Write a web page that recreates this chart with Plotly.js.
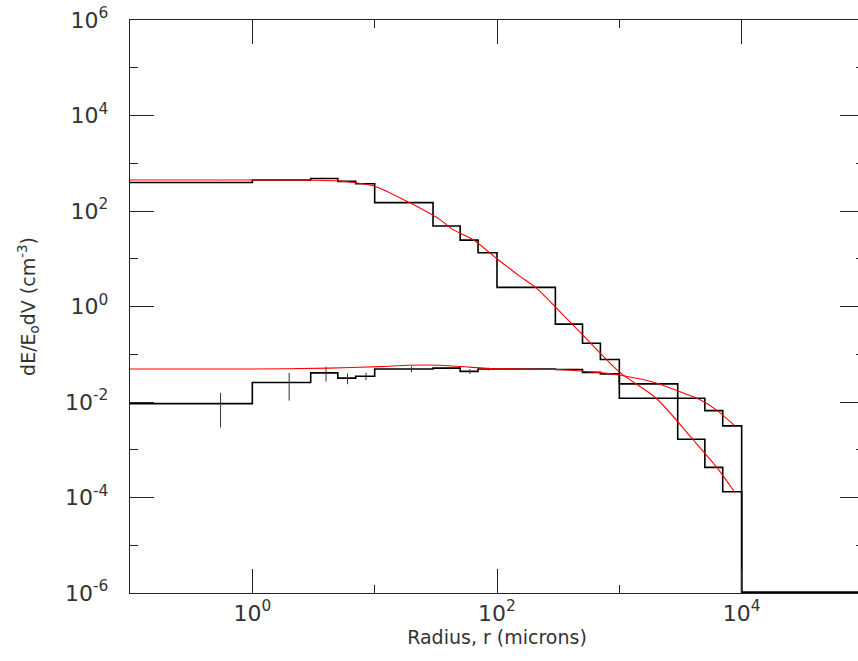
<!DOCTYPE html>
<html>
<head>
<meta charset="utf-8">
<script src="https://cdn.plot.ly/plotly-3.0.1.min.js"></script>
<style>
html,body{margin:0;padding:0;overflow:hidden;background:#fff;}
#chart{width:870px;height:661px;}
</style>
</head>
<body>
<div id="chart"></div>
<script>
// Bin edges (microns)
const binEdges = [0.1, 1, 3, 5, 7, 10, 30, 50, 70, 100, 300, 500, 700, 1000, 3000, 5000, 7000, 10000];
// Upper histogram values (cm^-3)
const upperVals = [394, 447, 479, 417, 372, 150, 48.4, 24.5, 13.4, 2.51, 0.427, 0.170, 0.0776, 0.0120, 0.00166, 0.000427, 0.000132];
const upperErr  = [12, 6, 6, 5, 5, 3, 1, 0.5, 0.3, 0.05, 0.01, 0.004, 0.002, 0.0003, 0.00004, 0.00001, 0.000004];
// Lower histogram values
const lowerVals = [0.00923, 0.0257, 0.0407, 0.0316, 0.0347, 0.0490, 0.0513, 0.0437, 0.0490, 0.0490, 0.0479, 0.0417, 0.0389, 0.0240, 0.0120, 0.00661, 0.00316];
const lowerErr  = [0.0063, 0.015, 0.014, 0.008, 0.006, 0.007, 0.003, 0.005, 0.003, 0.002, 0.002, 0.002, 0.002, 0.001, 0.0005, 0.0003, 0.0001];
// Empty tail beyond the last bin
const tailEnd = 100000;
const tailVal = 1.04e-6;
// Model curves (red)
const upperModelX = [0.1, 1, 2, 3, 5, 7, 10, 19.2, 34, 43.4, 63.4, 100, 153, 209, 305, 513, 1023, 2000, 3980, 6170, 8710];
const upperModelY = [447, 447, 447, 442, 427, 389, 331, 150, 66.8, 41.2, 25.4, 10, 4.33, 2.45, 0.933, 0.240, 0.0407, 0.0120, 0.00166, 0.000447, 0.000132];
const lowerModelX = [0.1, 1, 4.27, 11, 19, 34, 60, 87, 305, 716, 1023, 2000, 3090, 4570, 6170, 8710];
const lowerModelY = [0.049, 0.049, 0.0513, 0.0550, 0.0589, 0.0589, 0.0537, 0.0501, 0.0479, 0.0407, 0.0363, 0.0251, 0.0166, 0.0112, 0.00692, 0.00324];
// Tick labels
const xTickVals = [1, 100, 10000];
const xTickText = ['10<sup>0</sup>', '10<sup>2</sup>', '10<sup>4</sup>'];
const yTickVals = [1e-6, 1e-4, 1e-2, 1, 1e2, 1e4, 1e6];
const yTickText = ['10<sup>-6</sup>', '10<sup>-4</sup>', '10<sup>-2</sup>', '10<sup>0</sup>', '10<sup>2</sup>', '10<sup>4</sup>', '10<sup>6</sup>'];

function stepX(){ return binEdges.concat([tailEnd]); }
function stepY(vals){ return vals.concat([tailVal, tailVal]); }
function centers(){ const c=[]; for(let i=0;i<binEdges.length-1;i++){ c.push((binEdges[i]+binEdges[i+1])/2); } return c; }

const blk = '#000';
const traces = [
  {x: stepX(), y: stepY(upperVals), mode:'lines', line:{shape:'hv', color:blk, width:1.6}, hoverinfo:'skip'},
  {x: stepX(), y: stepY(lowerVals), mode:'lines', line:{shape:'hv', color:blk, width:1.6}, hoverinfo:'skip'},
  {x: centers(), y: upperVals, mode:'markers', marker:{size:0.1, color:blk},
   error_y:{type:'data', array:upperErr, visible:true, width:0, thickness:1, color:'#333'}},
  {x: centers(), y: lowerVals, mode:'markers', marker:{size:0.1, color:blk},
   error_y:{type:'data', array:lowerErr, visible:true, width:0, thickness:1, color:'#333'}},
  {x: upperModelX, y: upperModelY, mode:'lines', line:{shape:'spline', smoothing:0.8, color:'#ff0000', width:1.1}},
  {x: lowerModelX, y: lowerModelY, mode:'lines', line:{shape:'spline', smoothing:0.8, color:'#ff0000', width:1.1}}
];

const tickFont = {family:'DejaVu Sans, sans-serif', size:22, color:'#333'};
const axisCommon = {
  type:'log', showgrid:false, zeroline:false,
  showline:true, linecolor:'#222', linewidth:1.3, mirror:'allticks',
  ticks:'inside', ticklen:24, tickwidth:1, tickcolor:'#222',
  minor:{dtick:1, ticks:'inside', ticklen:8, tickwidth:1, tickcolor:'#222', showgrid:false},
  tickfont:tickFont
};

const layout = {
  width:870, height:661,
  margin:{l:130, r:6, t:20, b:68},
  paper_bgcolor:'#fff', plot_bgcolor:'#fff',
  showlegend:false,
  xaxis: Object.assign({}, axisCommon, {range:[-1,5], tickmode:'array', tickvals:xTickVals, ticktext:xTickText, ticklabelstandoff:0,
    title:{text:'Radius, r (microns)', font:{family:'DejaVu Sans, sans-serif', size:19, color:'#333'}, standoff:6}}),
  yaxis: Object.assign({}, axisCommon, {range:[-6,6], tickmode:'array', tickvals:yTickVals, ticktext:yTickText, ticklabelstandoff:16,
    title:{text:'dE/E<sub>o</sub>dV (cm<sup>-3</sup>)', font:{family:'DejaVu Sans, sans-serif', size:19, color:'#333'}, standoff:24}})
};

Plotly.newPlot('chart', traces, layout, {staticPlot:true});
</script>
</body>
</html>
